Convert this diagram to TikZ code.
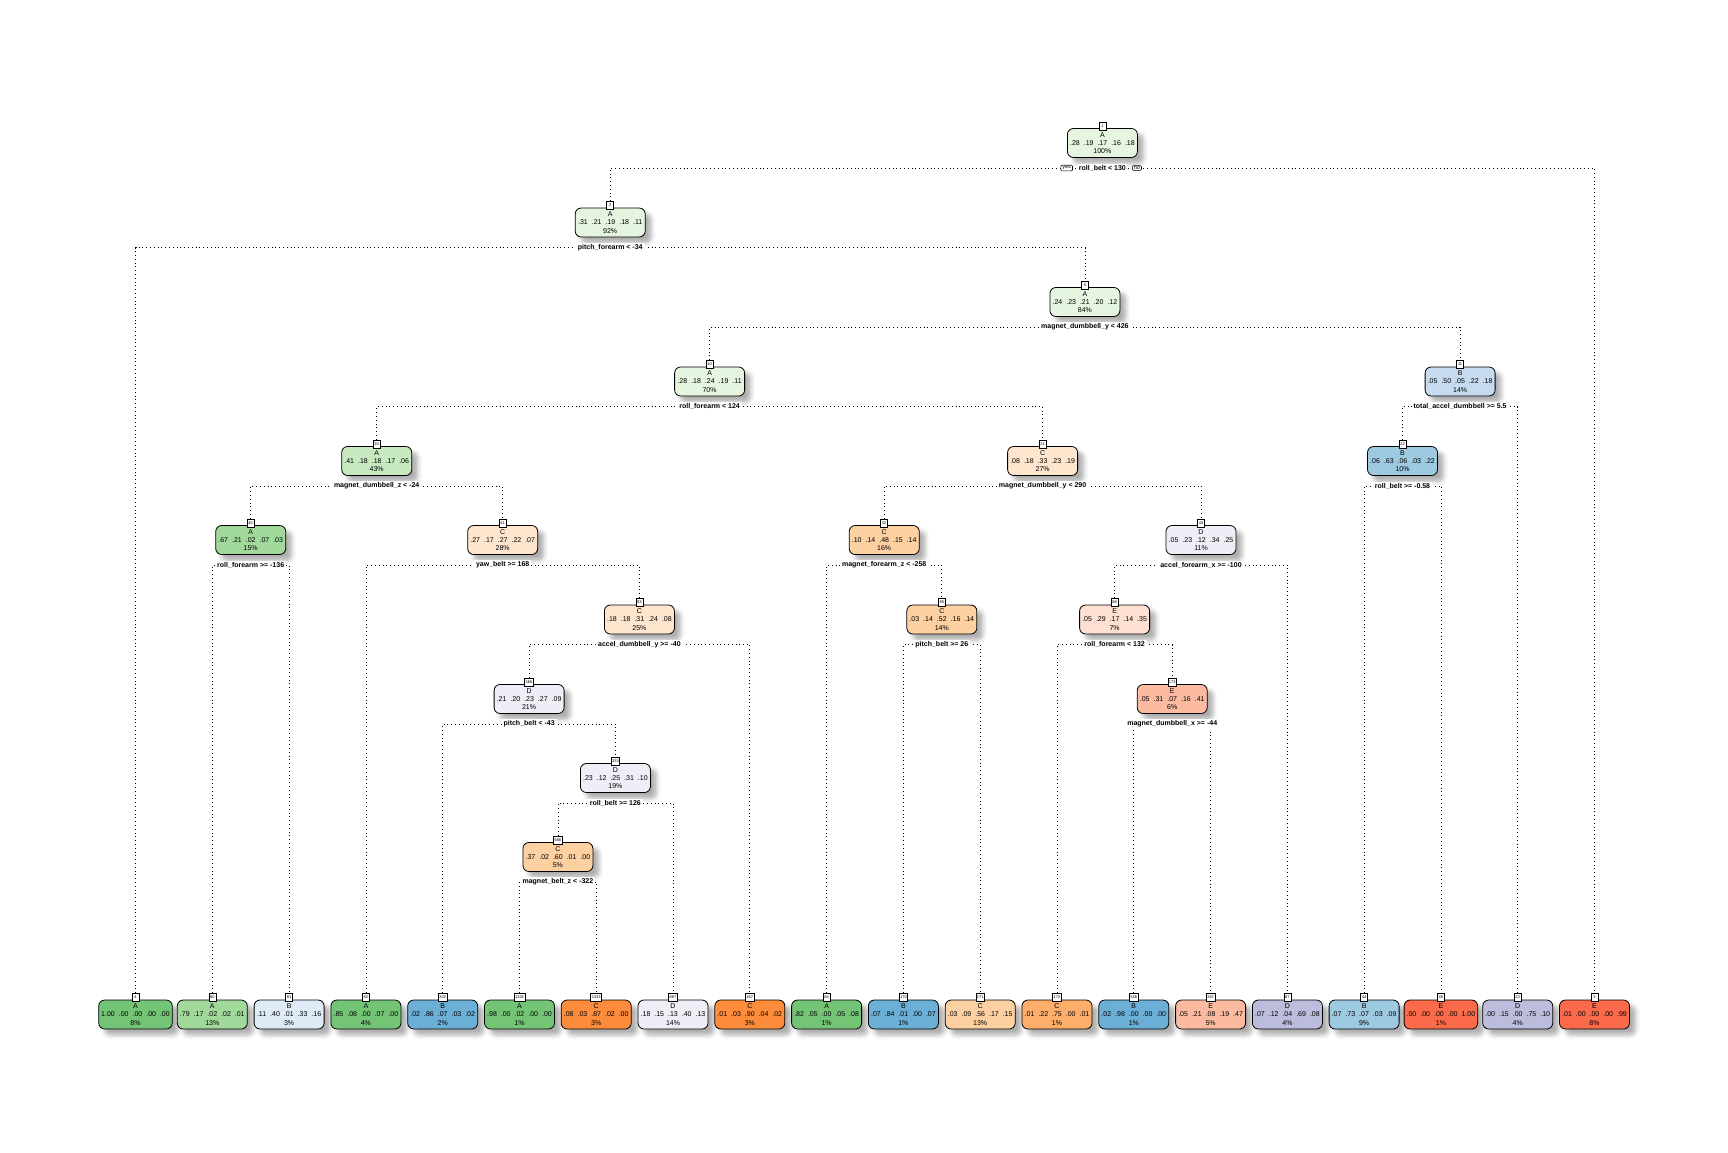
\documentclass[tikz,border=0pt]{standalone}
\usepackage{fontspec}
\setmainfont{Liberation Sans}
\usetikzlibrary{shadows.blur,backgrounds}

% node fills, light to dark within each class
\definecolor{gA1}{HTML}{E5F5E0}\definecolor{gA2}{HTML}{C7E9C0}
\definecolor{gA3}{HTML}{A1D99B}\definecolor{gA4}{HTML}{74C476}
\definecolor{bB1}{HTML}{DEEBF7}\definecolor{bB2}{HTML}{C6DBEF}
\definecolor{bB3}{HTML}{9ECAE1}\definecolor{bB4}{HTML}{6BAED6}
\definecolor{oC1}{HTML}{FEE6CE}\definecolor{oC2}{HTML}{FDD0A2}
\definecolor{oC3}{HTML}{FDAE6B}\definecolor{oC4}{HTML}{FD8D3C}
\definecolor{pD1}{HTML}{EFEDF5}\definecolor{pD2}{HTML}{BCBDDC}
\definecolor{rE1}{HTML}{FEE0D2}\definecolor{rE2}{HTML}{FCBBA1}
\definecolor{rE3}{HTML}{FB6A4A}

\tikzset{
  treebox/.style={draw=black, line width=0.8pt, rounded corners=6pt, align=center,
    font=\fontsize{7}{8.3}\selectfont, inner xsep=2.5pt, inner ysep=2pt,
    minimum width=70pt, minimum height=29pt,
    blur shadow={shadow xshift=6pt, shadow yshift=-6pt, shadow blur radius=4.5pt, shadow opacity=32}},
  tagbox/.style={draw=black, fill=white, line width=0.6pt, font=\fontsize{4}{4}\selectfont,
    inner sep=1pt, minimum width=7pt, minimum height=8pt, anchor=south},
  splitlab/.style={fill=white, font=\bfseries\fontsize{7}{8}\selectfont, inner xsep=2pt, inner ysep=1.5pt},
  yesno/.style={draw=black, fill=white, line width=0.6pt, rounded corners=1pt,
    font=\fontsize{5.5}{6}\selectfont, inner xsep=1.5pt, inner ysep=0.8pt},
  conn/.style={black, line width=0.8pt, dash pattern=on 0.8pt off 3pt}
}

\newcommand\probrow[5]{#1\hspace{4pt}#2\hspace{4pt}#3\hspace{4pt}#4\hspace{4pt}#5}
% id, x, y, class, probabilities, share, fill
\newcommand\treenode[7]{%
  \node[treebox, fill=#7] (n#1) at (#2,#3) {#4\\\probrow#5\\#6\%};
  \node[tagbox] (t#1) at ([yshift=-2pt]n#1.north) {#1};
}
% id, split text, left child, right child
\newcommand\splitrule[4]{%
  \node[splitlab] (s#1) at ([yshift=-25pt]n#1.center) {#2};
  \begin{scope}[on background layer]
    \draw[conn] (t#3.north) |- (s#1.center) -| (t#4.north);
  \end{scope}
}

\begin{document}
\begin{tikzpicture}[x=1pt,y=-1pt]
\useasboundingbox (0,0) rectangle (1728,1152);

% inner nodes
\treenode{1}{1102.4}{143}{A}{{.28}{.19}{.17}{.16}{.18}}{100}{gA1}
\treenode{2}{610.2}{222.5}{A}{{.31}{.21}{.19}{.18}{.11}}{92}{gA1}
\treenode{5}{1084.9}{302}{A}{{.24}{.23}{.21}{.20}{.12}}{84}{gA1}
\treenode{10}{709.6}{381.5}{A}{{.28}{.18}{.24}{.19}{.11}}{70}{gA1}
\treenode{11}{1460.1}{381.5}{B}{{.05}{.50}{.05}{.22}{.18}}{14}{bB2}
\treenode{20}{376.7}{461}{A}{{.41}{.18}{.18}{.17}{.06}}{43}{gA2}
\treenode{21}{1042.6}{461}{C}{{.08}{.18}{.33}{.23}{.19}}{27}{oC1}
\treenode{22}{1402.5}{461}{B}{{.06}{.63}{.06}{.03}{.22}}{10}{bB3}
\treenode{40}{250.7}{540}{A}{{.67}{.21}{.02}{.07}{.03}}{15}{gA3}
\treenode{41}{502.7}{540}{C}{{.27}{.17}{.27}{.22}{.07}}{28}{oC1}
\treenode{42}{884.2}{540}{C}{{.10}{.14}{.48}{.15}{.14}}{16}{oC2}
\treenode{43}{1201.0}{540}{D}{{.05}{.23}{.12}{.34}{.25}}{11}{pD1}
\treenode{83}{639.4}{619.5}{C}{{.18}{.18}{.31}{.24}{.08}}{25}{oC1}
\treenode{85}{941.8}{619.5}{C}{{.03}{.14}{.52}{.16}{.14}}{14}{oC2}
\treenode{86}{1114.6}{619.5}{E}{{.05}{.29}{.17}{.14}{.35}}{7}{rE1}
\treenode{166}{529.1}{699}{D}{{.21}{.20}{.23}{.27}{.09}}{21}{pD1}
\treenode{173}{1172.2}{699}{E}{{.05}{.31}{.07}{.16}{.41}}{6}{rE2}
\treenode{333}{615.4}{778}{D}{{.23}{.12}{.25}{.31}{.10}}{19}{pD1}
\treenode{666}{557.9}{857}{C}{{.37}{.02}{.60}{.01}{.00}}{5}{oC2}

% leaves
\treenode{4}{135.5}{1014.5}{A}{{1.00}{.00}{.00}{.00}{.00}}{8}{gA4}
\treenode{80}{212.3}{1014.5}{A}{{.79}{.17}{.02}{.02}{.01}}{13}{gA3}
\treenode{81}{289.1}{1014.5}{B}{{.11}{.40}{.01}{.33}{.16}}{3}{bB1}
\treenode{82}{365.9}{1014.5}{A}{{.85}{.08}{.00}{.07}{.00}}{4}{gA4}
\treenode{332}{442.7}{1014.5}{B}{{.02}{.86}{.07}{.03}{.02}}{2}{bB4}
\treenode{1332}{519.5}{1014.5}{A}{{.98}{.00}{.02}{.00}{.00}}{1}{gA4}
\treenode{1333}{596.2}{1014.5}{C}{{.08}{.03}{.87}{.02}{.00}}{3}{oC4}
\treenode{667}{673.0}{1014.5}{D}{{.18}{.15}{.13}{.40}{.13}}{14}{pD1}
\treenode{167}{749.8}{1014.5}{C}{{.01}{.03}{.90}{.04}{.02}}{3}{oC4}
\treenode{84}{826.6}{1014.5}{A}{{.82}{.05}{.00}{.05}{.08}}{1}{gA4}
\treenode{170}{903.4}{1014.5}{B}{{.07}{.84}{.01}{.00}{.07}}{1}{bB4}
\treenode{171}{980.2}{1014.5}{C}{{.03}{.09}{.56}{.17}{.15}}{13}{oC2}
\treenode{172}{1057.0}{1014.5}{C}{{.01}{.22}{.75}{.00}{.01}}{1}{oC3}
\treenode{346}{1133.8}{1014.5}{B}{{.02}{.98}{.00}{.00}{.00}}{1}{bB4}
\treenode{347}{1210.6}{1014.5}{E}{{.05}{.21}{.08}{.19}{.47}}{5}{rE2}
\treenode{87}{1287.4}{1014.5}{D}{{.07}{.12}{.04}{.69}{.08}}{4}{pD2}
\treenode{44}{1364.1}{1014.5}{B}{{.07}{.73}{.07}{.03}{.09}}{9}{bB3}
\treenode{45}{1440.9}{1014.5}{E}{{.00}{.00}{.00}{.00}{1.00}}{1}{rE3}
\treenode{23}{1517.7}{1014.5}{D}{{.00}{.15}{.00}{.75}{.10}}{4}{pD2}
\treenode{3}{1594.5}{1014.5}{E}{{.01}{.00}{.00}{.00}{.99}}{8}{rE3}

% split rules and connectors
\splitrule{1}{roll\_belt < 130}{2}{3}
\splitrule{2}{pitch\_forearm < -34}{4}{5}
\splitrule{5}{magnet\_dumbbell\_y < 426}{10}{11}
\splitrule{10}{roll\_forearm < 124}{20}{21}
\splitrule{11}{total\_accel\_dumbbell >= 5.5}{22}{23}
\splitrule{20}{magnet\_dumbbell\_z < -24}{40}{41}
\splitrule{21}{magnet\_dumbbell\_y < 290}{42}{43}
\splitrule{22}{roll\_belt >= -0.58}{44}{45}
\splitrule{40}{roll\_forearm >= -136}{80}{81}
\splitrule{41}{yaw\_belt >= 168}{82}{83}
\splitrule{42}{magnet\_forearm\_z < -258}{84}{85}
\splitrule{43}{accel\_forearm\_x >= -100}{86}{87}
\splitrule{83}{accel\_dumbbell\_y >= -40}{166}{167}
\splitrule{85}{pitch\_belt >= 26}{170}{171}
\splitrule{86}{roll\_forearm < 132}{172}{173}
\splitrule{166}{pitch\_belt < -43}{332}{333}
\splitrule{173}{magnet\_dumbbell\_x >= -44}{346}{347}
\splitrule{333}{roll\_belt >= 126}{666}{667}
\splitrule{666}{magnet\_belt\_z < -322}{1332}{1333}

\node[yesno, anchor=east] (yes) at ([xshift=-4pt]s1.west) {yes};
\node[yesno, anchor=west] (no) at ([xshift=4pt]s1.east) {no};
\end{tikzpicture}
\end{document}
